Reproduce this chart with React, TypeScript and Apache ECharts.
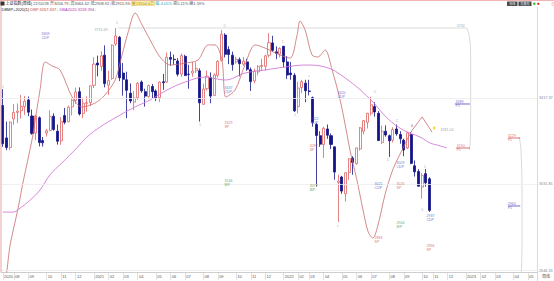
import React, { useEffect, useRef } from "react";
import * as echarts from "echarts";

const FONT = '"Liberation Sans", "Noto Sans CJK SC", sans-serif';

// week-ending dates (trading weeks) followed by the empty future weeks of the axis
const weeks: string[] = [
  "2020-07-17","2020-07-24","2020-07-31","2020-08-07","2020-08-14","2020-08-21","2020-08-28","2020-09-04","2020-09-11","2020-09-18","2020-09-25","2020-09-30","2020-10-09","2020-10-16","2020-10-23","2020-10-30","2020-11-06","2020-11-13","2020-11-20","2020-11-27","2020-12-04","2020-12-11","2020-12-18","2020-12-25","2020-12-31",
  "2021-01-08","2021-01-15","2021-01-22","2021-01-29","2021-02-05","2021-02-10","2021-02-19","2021-02-26","2021-03-05","2021-03-12","2021-03-19","2021-03-26","2021-04-02","2021-04-09","2021-04-16","2021-04-23","2021-04-30","2021-05-07","2021-05-14","2021-05-21","2021-05-28","2021-06-04","2021-06-11","2021-06-18","2021-06-25","2021-07-02","2021-07-09","2021-07-16","2021-07-23","2021-07-30","2021-08-06","2021-08-13","2021-08-20","2021-08-27","2021-09-03","2021-09-10","2021-09-17","2021-09-24","2021-09-30","2021-10-08","2021-10-15","2021-10-22","2021-10-29","2021-11-05","2021-11-12","2021-11-19","2021-11-26","2021-12-03","2021-12-10","2021-12-17","2021-12-24","2021-12-31",
  "2022-01-07","2022-01-14","2022-01-21","2022-01-28","2022-02-11","2022-02-18","2022-02-25","2022-03-04","2022-03-11","2022-03-18","2022-03-25","2022-04-01","2022-04-08","2022-04-15","2022-04-22","2022-04-29","2022-05-06","2022-05-13","2022-05-20","2022-05-27","2022-06-02","2022-06-10","2022-06-17","2022-06-24","2022-07-01","2022-07-08","2022-07-15","2022-07-22","2022-07-29","2022-08-05","2022-08-12","2022-08-19","2022-08-26","2022-09-02","2022-09-09","2022-09-16","2022-09-23","2022-09-30","2022-10-14","2022-10-21","2022-10-28",
];
const futureWeeks: string[] = [
  "2022-11-04","2022-11-11","2022-11-18","2022-11-25","2022-12-02","2022-12-09","2022-12-16","2022-12-23","2022-12-30",
  "2023-01-06","2023-01-13","2023-01-20","2023-01-27","2023-02-03","2023-02-10","2023-02-17","2023-02-24","2023-03-03","2023-03-10","2023-03-17","2023-03-24","2023-03-31","2023-04-07","2023-04-14","2023-04-21","2023-04-28","2023-05-05","2023-05-12","2023-05-19",
];

// [open, close, low, high]
const ohlc: number[][] = [
  [3385,3214,3200,3458],[3240,3197,3185,3313],[3197,3310,3185,3314],[3325,3354,3299,3392],[3354,3360,3306,3394],
  [3362,3381,3326,3432],[3380,3404,3342,3428],[3410,3355,3337,3425],[3338,3260,3254,3367],[3262,3338,3230,3343],
  [3330,3219,3202,3336],[3228,3218,3202,3244],[3262,3272,3246,3280],[3273,3336,3273,3364],[3337,3278,3272,3350],
  [3270,3225,3210,3300],[3227,3313,3209,3333],[3340,3310,3301,3374],[3312,3378,3312,3385],[3379,3408,3340,3418],
  [3408,3445,3392,3465],[3447,3347,3340,3466],[3350,3395,3328,3420],[3395,3397,3357,3426],[3398,3473,3383,3474],
  [3475,3570,3463,3601],[3575,3566,3515,3608],[3560,3607,3540,3627],[3610,3483,3466,3654],[3476,3496,3432,3540],
  [3506,3655,3500,3658],[3660,3696,3652,3731.69],[3690,3509,3494,3696],[3530,3502,3429,3575],[3500,3453,3328,3536],
  [3440,3405,3395,3484],[3400,3418,3364,3450],[3420,3484,3410,3490],[3490,3451,3442,3497],[3447,3427,3380,3460],
  [3425,3474,3420,3479],[3470,3447,3415,3481],[3450,3419,3405,3457],[3420,3490,3400,3493],[3491,3487,3455,3526],
  [3490,3601,3485,3622],[3600,3592,3563,3626],[3592,3590,3568,3613],[3584,3525,3515,3597],[3525,3608,3513,3617],
  [3605,3519,3517,3612],[3525,3524,3460,3567],[3530,3539,3513,3580],[3540,3550,3530,3578],[3540,3397,3313,3551],
  [3390,3458,3390,3483],[3460,3516,3452,3541],[3510,3427,3395,3533],[3430,3522,3430,3528],[3520,3582,3510,3588],
  [3585,3703,3585,3723],[3700,3614,3600,3708],[3635,3613,3570,3650],[3610,3568,3541,3626],[3580,3592,3572,3603],
  [3590,3572,3515,3600],[3570,3583,3562,3602],[3580,3547,3540,3594],[3545,3492,3450,3555],[3495,3539,3484,3550],
  [3535,3560,3520,3566],[3560,3564,3540,3594],[3560,3607,3540,3612],[3610,3666,3600,3709],[3665,3632,3625,3697],
  [3625,3618,3592,3650],[3615,3640,3600,3646],[3650,3580,3556,3651],[3580,3521,3504,3606],[3530,3523,3500,3580],
  [3520,3361,3356,3530],[3380,3463,3350,3492],[3465,3491,3440,3500],[3485,3451,3400,3500],[3450,3448,3430,3500],
  [3420,3310,3290,3425],[3300,3251,3023,3307],[3250,3212,3200,3270],[3210,3283,3150,3290],[3280,3252,3236,3300],
  [3250,3211,3190,3260],[3200,3087,3053,3200],[3040,3047,2863.65,3075],[3065,3002,2990,3070],[2990,3084,2955,3086],
  [3085,3147,3052,3150],[3150,3130,3075,3158],[3125,3195,3120,3196],[3190,3285,3183,3289],[3270,3317,3256,3320],
  [3310,3350,3282,3352],[3350,3388,3340,3424],[3380,3356,3335,3399],[3350,3228,3226,3360],[3220,3270,3213,3295],
  [3270,3253,3245,3296],[3250,3227,3155,3255],[3230,3277,3220,3288],[3280,3258,3250,3300],[3255,3236,3214,3270],
  [3230,3186,3158,3236],[3195,3262,3190,3268],[3255,3126,3122,3266],[3115,3088,3067,3139],[3090,3024,3022,3100],
  [3020,3072,2968,3083],[3080,3039,3022,3101],[3056.79,2915.93,2908.92,3064.42],
];

const priceLevels = [3417.37, 3031.85, 2646.33];
const lastClose = 2915.93;
const topHigh = 3731.69;

// DBP line (rose), key points [week index, price]
const dbpLine: number[][] = [
  [0.3,2560],[1.15,2649],[2.0,2761],[4.2,2926],[5.5,3038],[8.0,3231],[9.1,3342],[10.2,3454],[11.6,3580],
  [13.5,3562],[15.7,3544],[19.0,3423],[21.7,3378],[25.3,3396],[28.0,3432],[30.8,3499],[32.7,3611],[34.3,3709],
  [36.3,3799],[38.2,3745],[40.4,3678],[43.1,3602],[45.9,3566],[50.0,3575],[53.5,3588],[56.3,3656],[58.2,3656],
  [60.1,3588],[61.2,3423],[63.7,3454],[66.4,3566],[69.2,3656],[71.9,3642],[76.0,3611],[78.8,3597],[80.7,3700],
  [81.5,3763],[82.9,3723],[84.8,3611],[86.4,3602],[88.4,3633],[90.3,3544],[92.5,3410],[93.9,3298],[95.2,3186],
  [97.1,3052],[98.8,2917],[100.2,2819],[101.5,2792],[102.9,2850],[104.8,2985],[106.7,3087],[108.4,3150],
  [109.8,3195],[111.1,3240],
];
const dbpTail: number[][] = [[111.1,3240],[112.3,3275],[115.0,3334],[117.7,3266]];

// DBA2020 line (violet)
const dbaLine: number[][] = [
  [0,2908],[2.8,2908],[4.4,2922],[7.5,2962],[10.2,3007],[12.9,3074],[16.2,3128],[20.3,3195],[23.1,3244],
  [26.7,3289],[31.3,3334],[35.7,3374],[40.4,3410],[45.0,3454],[50.0,3490],[55.5,3512],[60.9,3499],[66.4,3530],
  [71.9,3544],[77.4,3557],[82.9,3566],[88.4,3557],[93.9,3508],[100.7,3414],[105.4,3329],[109.8,3275],
  [114.4,3244],[117.2,3217],[119.1,3208],[121.8,3195],
];

const highLine: number[][] = [[31.5, topHigh],[127.3, topHigh]];
const projA: number[][] = [[127.3,3731.69],[128.0,3690],[128.3,3600],[128.3,3400],[128.2,3231],[127.9,3186]];
const projB: number[][] = [[141.6,3244],[142.1,3186],[142.4,2962],[142.4,2783],[142.2,2640]];

// target (P1) ticks: [from, to, price, colour key]
const targets: [number, number, number, string][] = [
  [124.0,128.1,3391.7,"b"],[124.3,128.1,3194.8,"r"],[138.6,141.9,3239.6,"r"],[138.6,141.9,2935.3,"b"],
];

// text tags: [week index, price (top of text), text, colour key]
const tags: [number, number, string, string][] = [
  [10.75,3713.8,"3309\nCDP","b"],[60.9,3472.2,"3437\nCDP","b"],[60.9,3315.6,"3329\nSP","r"],[60.9,3056.1,"3146\nBIP","g"],
  [84.5,3333.5,"3322\nCDP","b"],[84.3,3212.7,"3282\nSP","r"],[84.3,3033.8,"3077\nBIP","g"],[91.9,3449.8,"3420\nCDP","b"],
  [108.1,3136.6,"3029\nCDP","b"],[102.1,3042.7,"3021\nCDP","b"],[108.1,3042.7,"3026\nSP","r"],[108.1,2868.2,"2944\nBIP","g"],
  [102.1,2801.1,"2883\nSP","r"],[116.3,2899.5,"2937\nCDP","b"],[116.3,2765.3,"2836\nSP","r"],
  [124.3,3409.6,"3289\nP1","b"],[124.6,3212.7,"3190\nP1","r"],[138.6,3257.4,"3229\nP1","r"],[138.6,2953.2,"2964\nP1","b"],
  [25.3,3731.69,"3731.69 -","k"],[124.6,3749.6,"3732","k"],[120.2,3284,"3281.04","k"],
];

// small wave letters: [week index, price (centre), text]
const marks: [number, number, string][] = [
  [0.05,3468,"1"],[31.3,3754,"1"],[11.0,3204,"C"],[60.9,3741,"C"],[54.1,3298,"1"],[76.8,3669,"1"],[80.1,3342,"1"],
  [84.0,3517,"c"],[91.9,2846,"c"],[102.1,3445,"C"],[108.1,3316,"C"],[112.2,3293,"A"],[105.6,3141,"5"],
  [115.8,3110,"C"],[115.0,2917,"5"],
];
const forecastDot: number[][] = [[118.3, 3284]];

const tagColors: Record<string, string> = { b: "#4646c4", r: "#d24a4a", g: "#3d8d3d", k: "#8a8a8a" };

const allWeeks = weeks.concat(futureWeeks);
const labelSet = new Set<number>();
allWeeks.forEach((w, i) => {
  if (i === 0 || w.slice(5, 7) !== allWeeks[i - 1].slice(5, 7)) labelSet.add(i);
});
const showTick = (i: number) => labelSet.has(i);

function buildOption(): any {
  const n = allWeeks.length;
  const series: any[] = [
    {
      type: "candlestick",
      data: ohlc,
      barWidth: "70%",
      itemStyle: {
        color: "rgba(0,0,0,0)",
        color0: "#14148a",
        borderColor: "#e06464",
        borderColor0: "#14148a",
        borderWidth: 0.8,
      },
      markLine: {
        silent: true,
        symbol: ["none", "none"],
        label: { position: "end", distance: 2, fontSize: 3.8, color: "#8a8a8a", fontFamily: FONT,
          formatter: (p: any) => Number(p.value).toFixed(2) },
        data: [
          ...priceLevels.map((v) => ({ yAxis: v, lineStyle: { color: "#ececec", width: 0.8, type: "solid" } })),
          { yAxis: lastClose, lineStyle: { opacity: 0 }, label: { color: "#e07070" } },
        ],
      },
      z: 2,
    },
    { type: "line", xAxisIndex: 1, data: highLine, symbol: "none", lineStyle: { color: "#d2d2d2", width: 0.8 }, z: 1 },
    { type: "line", xAxisIndex: 1, data: projA, smooth: 0.4, symbol: "none", lineStyle: { color: "#cfcfcf", width: 0.8 }, z: 1 },
    { type: "line", xAxisIndex: 1, data: projB, smooth: 0.4, symbol: "none", lineStyle: { color: "#cfcfcf", width: 0.8 }, z: 1 },
    { type: "line", xAxisIndex: 1, data: dbpLine, smooth: 0.3, symbol: "none", lineStyle: { color: "#c96c6c", width: 0.8 }, z: 3 },
    { type: "line", xAxisIndex: 1, data: dbpTail, symbol: "none", lineStyle: { color: "#c96c6c", width: 0.8 }, z: 3 },
    { type: "line", xAxisIndex: 1, data: dbaLine, smooth: 0.4, symbol: "none", lineStyle: { color: "#d27ad6", width: 0.9 }, z: 3 },
    ...targets.map(([a, b, v, c]) => ({
      type: "line", xAxisIndex: 1, data: [[a, v], [b, v]], symbol: "none",
      lineStyle: { color: tagColors[c], width: 0.8 }, z: 4,
    })),
    {
      type: "scatter", xAxisIndex: 1, data: forecastDot, symbol: "diamond", symbolSize: [3, 4],
      itemStyle: { color: "#ecd000" }, z: 5,
    },
    {
      type: "scatter", xAxisIndex: 1, symbolSize: 1, silent: true,
      itemStyle: { color: "rgba(0,0,0,0)" },
      label: { show: true, position: [0, 0], align: "left", verticalAlign: "top", fontSize: 3.6, lineHeight: 4.2, fontFamily: FONT },
      data: tags.map(([x, y, t, c]) => ({ value: [x, y], label: { formatter: t, color: tagColors[c] } })),
      z: 6,
    },
    {
      type: "scatter", xAxisIndex: 1, symbolSize: 1, silent: true,
      itemStyle: { color: "rgba(0,0,0,0)" },
      label: { show: true, position: "inside", fontSize: 3.6, color: "#8c8c8c", fontFamily: FONT },
      data: marks.map(([x, y, t]) => ({ value: [x, y], label: { formatter: t } })),
      z: 6,
    },
  ];

  const rich = {
    k: { fill: "#1a1a1a", color: "#1a1a1a", fontSize: 4, fontFamily: FONT },
    g: { fill: "#555", color: "#555", fontSize: 4, fontFamily: FONT },
    v: { fill: "#505050", color: "#505050", fontSize: 4, fontFamily: FONT },
    d: { fill: "#3c3cc8", color: "#3c3cc8", fontSize: 4, fontFamily: FONT },
    y: { fill: "#9a8400", color: "#9a8400", fontSize: 4, fontFamily: FONT, backgroundColor: "#fff6b8", borderColor: "#d9c75a", borderWidth: 0.4 },
    c: { fill: "#2fa7b8", color: "#2fa7b8", fontSize: 4, fontFamily: FONT },
    r: { fill: "#c84848", color: "#c84848", fontSize: 4, fontFamily: FONT },
    m: { fill: "#b03cb0", color: "#b03cb0", fontSize: 4, fontFamily: FONT },
  };
  const line1 =
    "{k|上证指数(周线)} {g|22/10/28} {g|开}{v|3056.79}{d|↓}{g|高}{v|3064.42}{d|↓}{g|低}{v|2908.92}{d|↓}{g|收}{v|2915.93}{d|↓}{y|量13504.6万}{c| 幅-4.05%} {g|振5.11% 换1.59%}";
  const line2 = "{k|DBMP+2020(1)} {r|DBP:3267.637↓} {m|DBA2020:3218.394↓}";

  const graphic = [
    { type: "line", shape: { x1: 0, y1: 0.5, x2: 554, y2: 0.5 }, style: { stroke: "#f0b4b4", lineWidth: 1 }, z: 10 },
    { type: "line", shape: { x1: 1, y1: 0, x2: 1, y2: 272 }, style: { stroke: "#e8a4a4", lineWidth: 1 }, z: 10 },
    { type: "line", shape: { x1: 537.5, y1: 7, x2: 537.5, y2: 281 }, style: { stroke: "#d0d0d0", lineWidth: 0.8 }, z: 10 },
    { type: "rect", shape: { x: 0.5, y: 1.5, width: 4, height: 4 }, style: { fill: "#333" }, z: 10 },
    { type: "text", x: 5.5, y: 1.3, style: { text: line1, rich, fontSize: 4, fontFamily: FONT, verticalAlign: "top" }, z: 10 },
    { type: "text", x: 1.5, y: 7.8, style: { text: line2, rich, fontSize: 4, fontFamily: FONT, verticalAlign: "top" }, z: 10 },
    { type: "rect", shape: { x: 507, y: 1.5, width: 10.5, height: 4.5 }, style: { fill: "#4a4a4a" }, z: 10 },
    { type: "rect", shape: { x: 518.5, y: 1.5, width: 13, height: 4.5 }, style: { fill: "#4a4a4a" }, z: 10 },
    { type: "text", x: 512.2, y: 3.8, style: { text: "周线", fill: "#eee", fontSize: 3, fontFamily: FONT, align: "center", verticalAlign: "middle" }, z: 11 },
    { type: "text", x: 525, y: 3.8, style: { text: "前复权", fill: "#eee", fontSize: 3, fontFamily: FONT, align: "center", verticalAlign: "middle" }, z: 11 },
    { type: "circle", shape: { cx: 534.3, cy: 3.7, r: 1.3 }, style: { fill: "#33cc33" }, z: 10 },
    { type: "circle", shape: { cx: 538.3, cy: 3.7, r: 1.2 }, style: { fill: "#e03030" }, z: 10 },
    { type: "text", x: 551, y: 2, style: { text: "⊕", fill: "#e89090", fontSize: 4, fontFamily: FONT, verticalAlign: "top" }, z: 10 },
    { type: "text", x: 542, y: 274.3, style: { text: "周线", fill: "#555", fontSize: 4, fontFamily: FONT, verticalAlign: "top" }, z: 10 },
  ];

  return {
    animation: false,
    backgroundColor: "#ffffff",
    grid: { left: 1, right: 17, top: 2, bottom: 9 },
    xAxis: [
      {
        type: "category",
        data: allWeeks,
        boundaryGap: true,
        axisLine: { lineStyle: { color: "#c2c2c2", width: 0.8 } },
        axisTick: { show: true, alignWithLabel: true, interval: showTick, length: 8, lineStyle: { color: "#cccccc", width: 0.6 } },
        axisLabel: {
          interval: showTick,
          fontSize: 4,
          color: "#555",
          align: "left",
          margin: 2,
          padding: [0, 0, 0, 1.2],
          fontFamily: FONT,
          formatter: (v: string, i: number) => (i === 0 || v.slice(5, 7) === "01" ? v.slice(0, 4) : v.slice(5, 7)),
        },
        splitLine: { show: false },
      },
      { type: "value", min: -0.5, max: n - 0.5, show: false },
    ],
    yAxis: { type: "value", min: 2640, max: 3848, show: false, splitLine: { show: false } },
    series,
    graphic,
  };
}

export default function App() {
  const ref = useRef<HTMLDivElement>(null);
  useEffect(() => {
    document.body.style.margin = "0";
    const chart = echarts.init(ref.current!, null, { renderer: "svg" });
    chart.setOption(buildOption());
    return () => chart.dispose();
  }, []);
  return <div ref={ref} style={{ width: 554, height: 281 }} />;
}
